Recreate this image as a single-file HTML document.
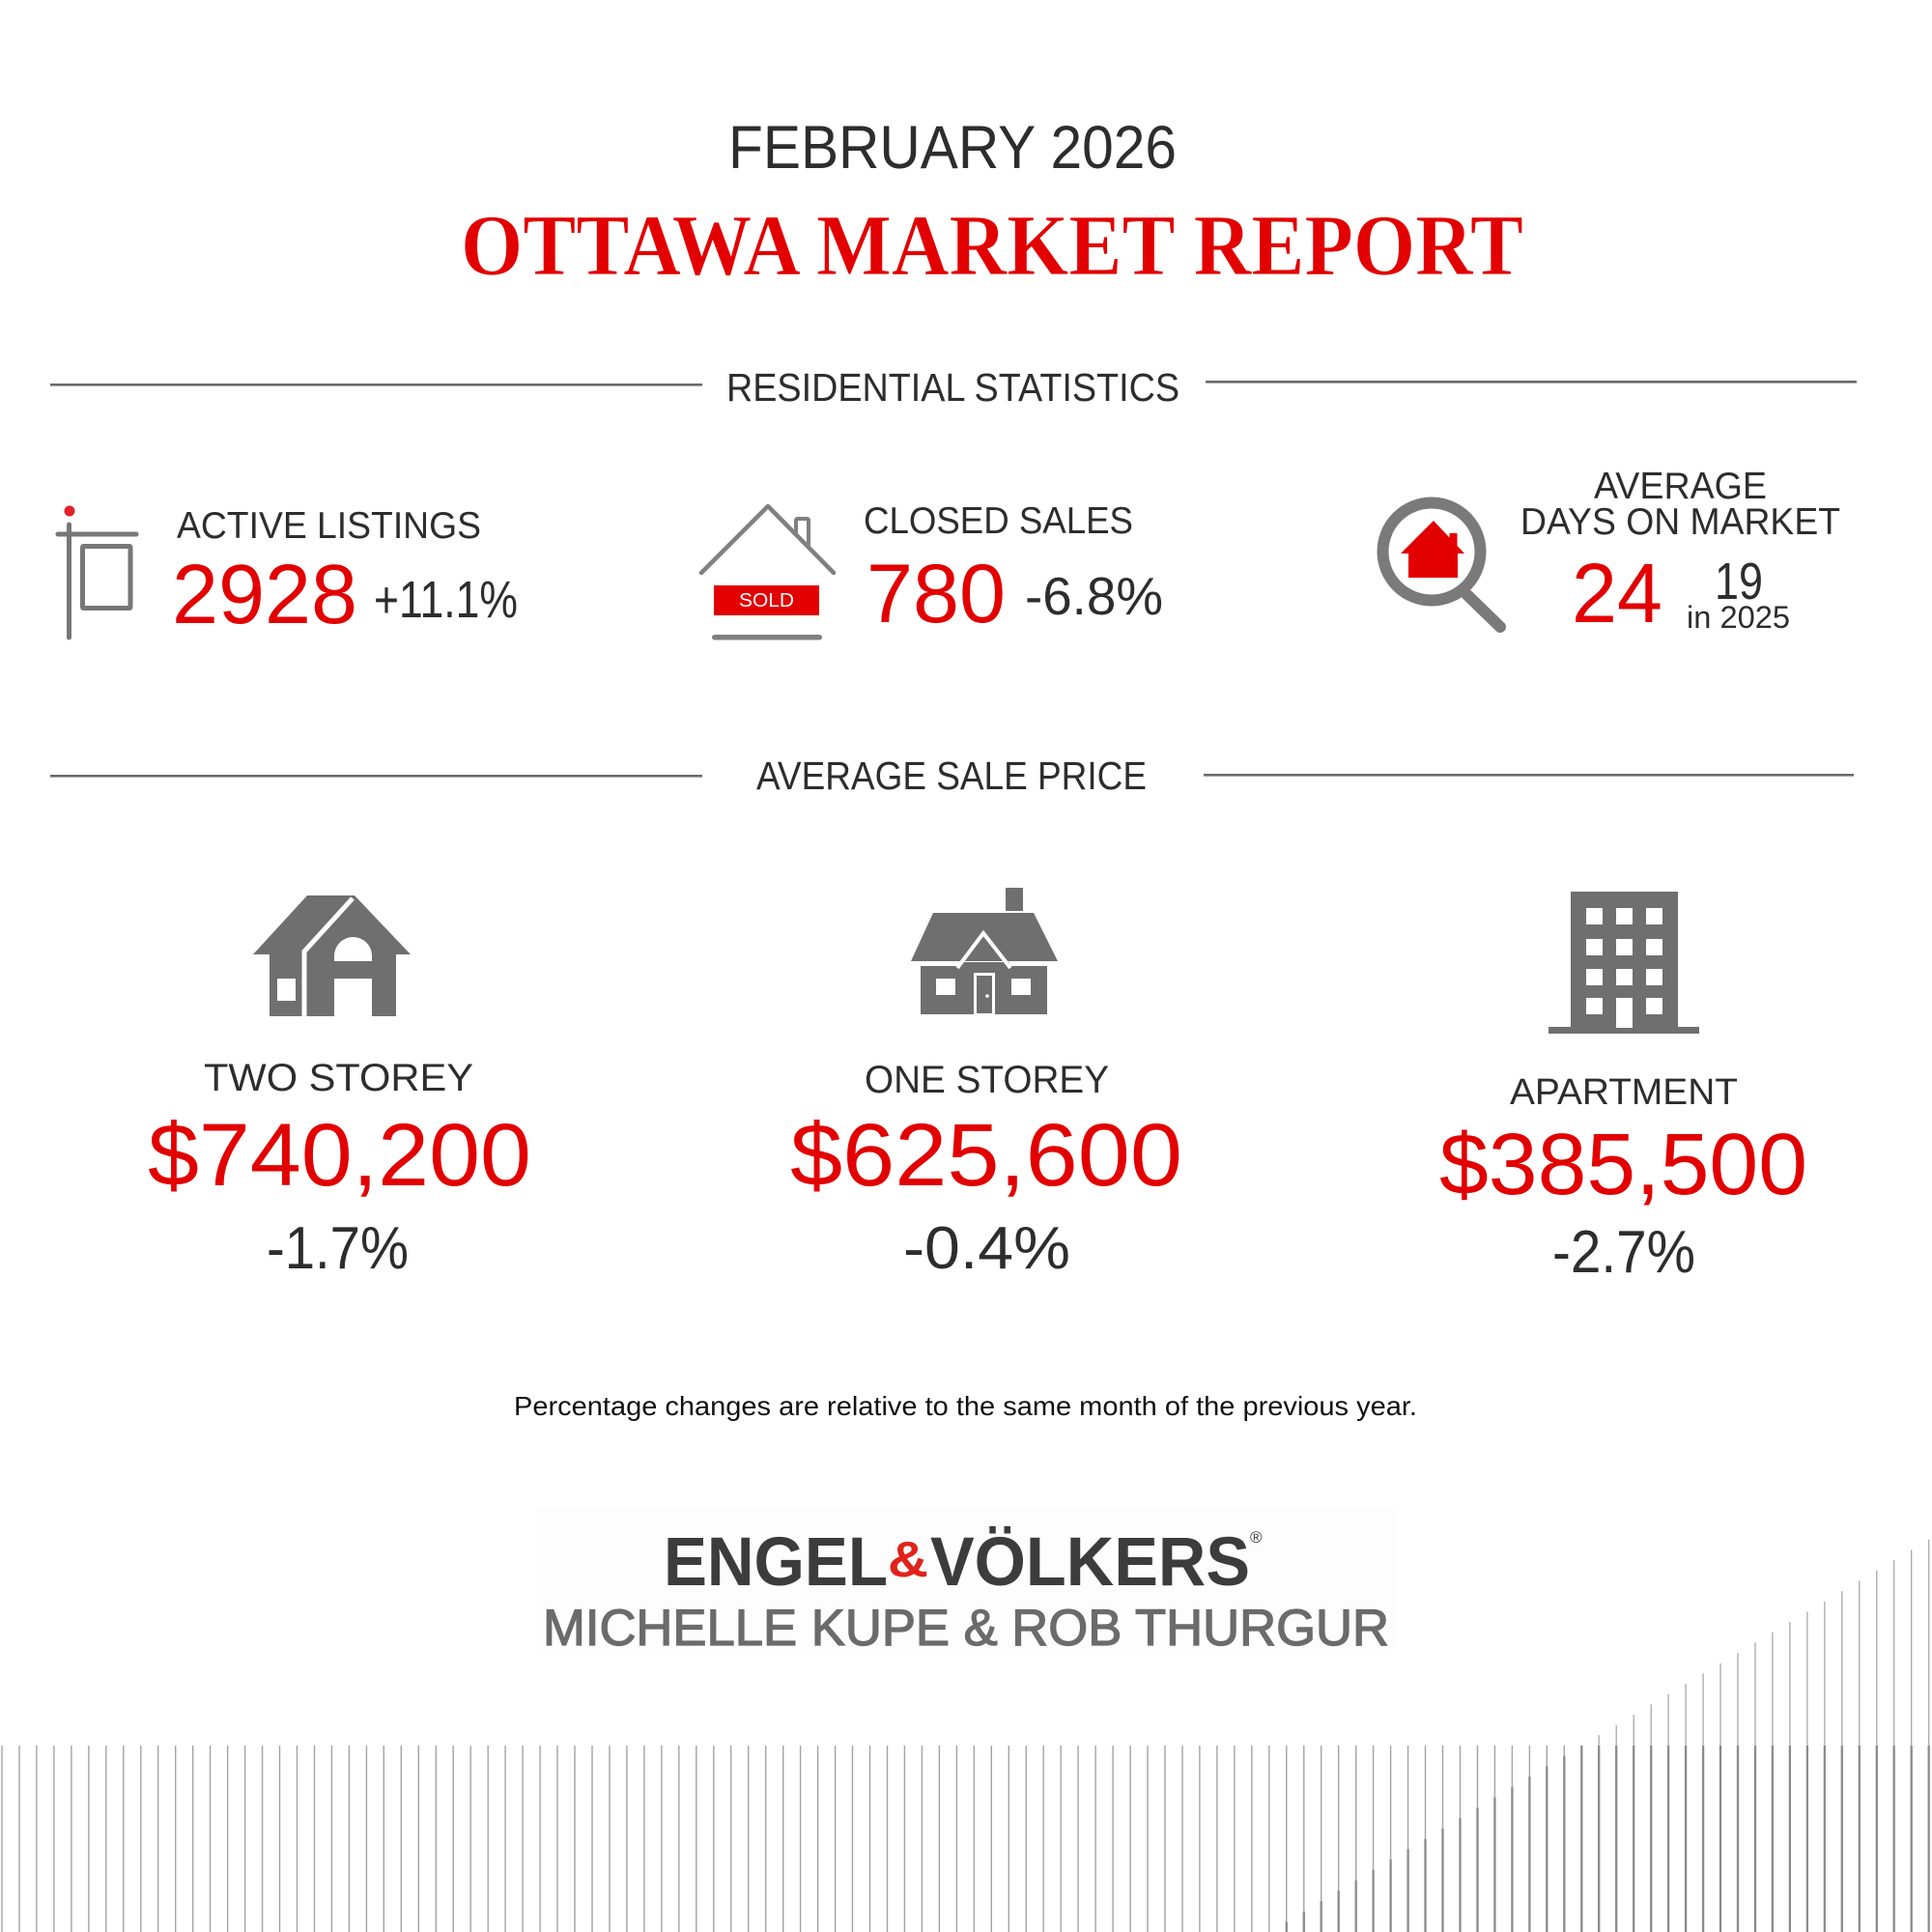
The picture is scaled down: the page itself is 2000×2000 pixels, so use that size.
<!DOCTYPE html>
<html>
<head>
<meta charset="utf-8">
<style>
html,body{margin:0;padding:0;background:#fff;}
svg{display:block;}
text{font-family:"Liberation Sans",Arial,sans-serif;}
</style>
</head>
<body>
<svg width="2000" height="2000" viewBox="0 0 2000 2000" xmlns="http://www.w3.org/2000/svg">
<rect x="0" y="0" width="2000" height="2000" fill="#ffffff"/>

<!-- Header -->
<text x="754" y="174" font-size="63" fill="#2d2d2d" textLength="464" lengthAdjust="spacingAndGlyphs">FEBRUARY 2026</text>
<text x="477" y="284" font-size="90" font-weight="bold" fill="#e20000" stroke="#ffffff" stroke-width="0.8" textLength="1100" lengthAdjust="spacingAndGlyphs" style="font-family:'Liberation Serif',serif">OTTAWA MARKET REPORT</text>

<!-- Section 1 -->
<rect x="52" y="397" width="675" height="2.6" fill="#6a6a6a"/>
<rect x="1248" y="394" width="674" height="2.6" fill="#6a6a6a"/>
<text x="752" y="415" font-size="41" fill="#2d2d2d" textLength="469" lengthAdjust="spacingAndGlyphs">RESIDENTIAL STATISTICS</text>

<!-- Active listings icon -->
<circle cx="72" cy="529" r="5.5" fill="#e5202a"/>
<line x1="71.5" y1="543" x2="71.5" y2="660" stroke="#777" stroke-width="5" stroke-linecap="round"/>
<line x1="60" y1="553" x2="141" y2="553" stroke="#777" stroke-width="5" stroke-linecap="round"/>
<rect x="85.5" y="565.5" width="49.5" height="64" fill="none" stroke="#777" stroke-width="5" rx="1"/>

<text x="183" y="557" font-size="39" fill="#2d2d2d" textLength="315" lengthAdjust="spacingAndGlyphs">ACTIVE LISTINGS</text>
<text x="178" y="645" font-size="87" fill="#e20000" textLength="192" lengthAdjust="spacingAndGlyphs">2928</text>
<text x="387" y="639" font-size="54" fill="#2d2d2d" textLength="149" lengthAdjust="spacingAndGlyphs">+11.1%</text>

<!-- Closed sales icon -->
<polyline points="726,593 795,524 863,593" fill="none" stroke="#808080" stroke-width="4.5" stroke-linecap="round" stroke-linejoin="round"/>
<path d="M824,553 V539 Q824,537 826,537 H835 Q837,537 837,539 V566" fill="none" stroke="#808080" stroke-width="4"/>
<rect x="739" y="606" width="109" height="31" fill="#e20000"/>
<text x="765" y="628" font-size="20.5" fill="#ffffff" textLength="57" lengthAdjust="spacingAndGlyphs">SOLD</text>
<rect x="737" y="657" width="114" height="5.5" rx="2.75" fill="#808080"/>

<text x="894" y="552" font-size="39" fill="#2d2d2d" textLength="279" lengthAdjust="spacingAndGlyphs">CLOSED SALES</text>
<text x="897" y="644" font-size="86" fill="#e20000" textLength="144" lengthAdjust="spacingAndGlyphs">780</text>
<text x="1061" y="636" font-size="55" fill="#2d2d2d" textLength="143" lengthAdjust="spacingAndGlyphs">-6.8%</text>

<!-- Days on market icon -->
<circle cx="1482" cy="571" r="50.5" fill="none" stroke="#7a7a7a" stroke-width="12"/>
<line x1="1519" y1="616" x2="1553" y2="649" stroke="#7a7a7a" stroke-width="12" stroke-linecap="round"/>
<polygon points="1484,539 1516,573 1509,573 1509,598 1458,598 1458,573 1450,573" fill="#e20000"/>
<rect x="1500.5" y="552" width="8" height="16" fill="#e20000"/>

<text x="1650" y="516" font-size="39" fill="#2d2d2d" textLength="179" lengthAdjust="spacingAndGlyphs">AVERAGE</text>
<text x="1574" y="553" font-size="39" fill="#2d2d2d" textLength="331" lengthAdjust="spacingAndGlyphs">DAYS ON MARKET</text>
<text x="1627" y="644" font-size="87" fill="#e20000" textLength="94" lengthAdjust="spacingAndGlyphs">24</text>
<text x="1775" y="620" font-size="54" fill="#2d2d2d" textLength="50" lengthAdjust="spacingAndGlyphs">19</text>
<text x="1746" y="650" font-size="32" fill="#2d2d2d" textLength="107" lengthAdjust="spacingAndGlyphs">in 2025</text>

<!-- Section 2 -->
<rect x="52" y="802" width="675" height="2.6" fill="#6a6a6a"/>
<rect x="1246" y="801" width="673" height="2.6" fill="#6a6a6a"/>
<text x="783" y="817" font-size="41" fill="#2d2d2d" textLength="404" lengthAdjust="spacingAndGlyphs">AVERAGE SALE PRICE</text>

<!-- Two storey icon -->
<g fill="#6f6f6f">
<polygon points="262,988 318,927 367,927 425,988 410,988 410,1052 279,1052 279,988"/>
</g>
<path d="M365,930 L315,985 L315,1052" fill="none" stroke="#fff" stroke-width="5"/>
<rect x="287" y="1013" width="19" height="23" fill="#fff"/>
<path d="M346,995 V989.5 A19.5,19.5 0 0 1 385,989.5 V995 Z" fill="#fff"/>
<rect x="346" y="1013" width="39" height="40" fill="#fff"/>

<!-- One storey icon -->
<g fill="#6f6f6f">
<rect x="1041" y="919" width="18" height="24"/>
<polygon points="966,945 1070,945 1095,995 943,995"/>
<rect x="953" y="996" width="131" height="54"/>
</g>
<line x1="943" y1="998" x2="993" y2="998" stroke="#fff" stroke-width="4"/>
<line x1="1045" y1="998" x2="1095" y2="998" stroke="#fff" stroke-width="4"/>
<path d="M991,1002 L1018,966 L1046,1002" fill="none" stroke="#fff" stroke-width="4"/>
<rect x="969" y="1013" width="20" height="17" fill="#fff"/>
<rect x="1047" y="1013" width="20" height="17" fill="#fff"/>
<rect x="1009.5" y="1008.5" width="19" height="42" fill="#6f6f6f" stroke="#fff" stroke-width="3"/>
<circle cx="1022" cy="1031" r="1.8" fill="#fff"/>

<!-- Apartment icon -->
<g fill="#6f6f6f">
<rect x="1626" y="923" width="111" height="142"/>
<rect x="1603" y="1063" width="156" height="7"/>
</g>
<g fill="#fff">
<rect x="1642" y="940" width="17" height="17"/><rect x="1673" y="940" width="17" height="17"/><rect x="1704" y="940" width="17" height="17"/>
<rect x="1642" y="972" width="17" height="17"/><rect x="1673" y="972" width="17" height="17"/><rect x="1704" y="972" width="17" height="17"/>
<rect x="1642" y="1003" width="17" height="17"/><rect x="1673" y="1003" width="17" height="17"/><rect x="1704" y="1003" width="17" height="17"/>
<rect x="1642" y="1033" width="17" height="17"/><rect x="1673" y="1033" width="17" height="31"/><rect x="1704" y="1033" width="17" height="17"/>
</g>

<!-- Prices -->
<text x="211" y="1129" font-size="40" fill="#2d2d2d" textLength="279" lengthAdjust="spacingAndGlyphs">TWO STOREY</text>
<text x="153" y="1227" font-size="92" fill="#e20000" textLength="397" lengthAdjust="spacingAndGlyphs">$740,200</text>
<text x="276" y="1313" font-size="62" fill="#2d2d2d" textLength="147" lengthAdjust="spacingAndGlyphs">-1.7%</text>

<text x="895" y="1131" font-size="40" fill="#2d2d2d" textLength="253" lengthAdjust="spacingAndGlyphs">ONE STOREY</text>
<text x="818" y="1227" font-size="92" fill="#e20000" textLength="406" lengthAdjust="spacingAndGlyphs">$625,600</text>
<text x="935" y="1313" font-size="62" fill="#2d2d2d" textLength="173" lengthAdjust="spacingAndGlyphs">-0.4%</text>

<text x="1563" y="1143" font-size="38" fill="#2d2d2d" textLength="236" lengthAdjust="spacingAndGlyphs">APARTMENT</text>
<text x="1490" y="1236" font-size="90" fill="#e20000" textLength="381" lengthAdjust="spacingAndGlyphs">$385,500</text>
<text x="1607" y="1317" font-size="62" fill="#2d2d2d" textLength="148" lengthAdjust="spacingAndGlyphs">-2.7%</text>

<!-- Footnote -->
<text x="532" y="1465" font-size="28" fill="#111" textLength="935" lengthAdjust="spacingAndGlyphs">Percentage changes are relative to the same month of the previous year.</text>

<!-- Logo -->
<rect x="554" y="1562" width="890" height="151" fill="#fdfdfd"/>
<text x="687" y="1641" font-size="71" font-weight="bold" fill="#3c3c3c" textLength="232" lengthAdjust="spacingAndGlyphs">ENGEL</text>
<text x="919" y="1632" font-size="52" font-weight="bold" fill="#e2231a" textLength="42" lengthAdjust="spacingAndGlyphs">&amp;</text>
<text x="963" y="1641" font-size="71" font-weight="bold" fill="#3c3c3c" textLength="331" lengthAdjust="spacingAndGlyphs">VÖLKERS</text>
<text x="1294" y="1597" font-size="17" fill="#3c3c3c">®</text>
<text x="562" y="1703" font-size="53" fill="#6b6b6b" stroke="#6b6b6b" stroke-width="1.3" textLength="876" lengthAdjust="spacingAndGlyphs">MICHELLE KUPE &amp; ROB THURGUR</text>

<!-- Bottom vertical lines (thin, flat) -->
<path fill="none" stroke="#a3a3a3" stroke-width="1.4" d="M2.0 1807V2000M20.0 1807V2000M37.9 1807V2000M55.9 1807V2000M73.9 1807V2000M91.9 1807V2000M109.8 1807V2000M127.8 1807V2000M145.8 1807V2000M163.7 1807V2000M181.7 1807V2000M199.7 1807V2000M217.6 1807V2000M235.6 1807V2000M253.6 1807V2000M271.6 1807V2000M289.5 1807V2000M307.5 1807V2000M325.5 1807V2000M343.4 1807V2000M361.4 1807V2000M379.4 1807V2000M397.3 1807V2000M415.3 1807V2000M433.3 1807V2000M451.3 1807V2000M469.2 1807V2000M487.2 1807V2000M505.2 1807V2000M523.1 1807V2000M541.1 1807V2000M559.1 1807V2000M577.0 1807V2000M595.0 1807V2000M613.0 1807V2000M631.0 1807V2000M648.9 1807V2000M666.9 1807V2000M684.9 1807V2000M702.8 1807V2000M720.8 1807V2000M738.8 1807V2000M756.7 1807V2000M774.7 1807V2000M792.7 1807V2000M810.7 1807V2000M828.6 1807V2000M846.6 1807V2000M864.6 1807V2000M882.5 1807V2000M900.5 1807V2000M918.5 1807V2000M936.4 1807V2000M954.4 1807V2000M972.4 1807V2000M990.4 1807V2000M1008.3 1807V2000M1026.3 1807V2000M1044.3 1807V2000M1062.2 1807V2000M1080.2 1807V2000M1098.2 1807V2000M1116.1 1807V2000M1134.1 1807V2000M1152.1 1807V2000M1170.1 1807V2000M1188.0 1807V2000M1206.0 1807V2000M1224.0 1807V2000M1241.9 1807V2000M1259.9 1807V2000M1277.9 1807V2000M1295.8 1807V2000M1313.8 1807V2000M1331.8 1807V2000M1349.8 1807V2000M1367.7 1807V2000M1385.7 1807V2000M1403.7 1807V2000M1421.6 1807V2000M1439.6 1807V2000M1457.6 1807V2000M1475.5 1807V2000M1493.5 1807V2000M1511.5 1807V2000M1529.5 1807V2000M1547.4 1807V2000M1565.4 1807V2000M1583.4 1807V2000M1601.3 1807V2000M1619.3 1807V2000M1637.3 1807V2000"/>
<!-- Rising thin tops -->
<path fill="none" stroke="#a8a8a8" stroke-width="1.3" d="M1655.2 1796.3V1808M1673.2 1785.7V1808M1691.2 1775.0V1808M1709.2 1764.4V1808M1727.1 1753.7V1808M1745.1 1743.0V1808M1763.1 1732.4V1808M1781.0 1721.7V1808M1799.0 1711.1V1808M1817.0 1700.4V1808M1834.9 1689.7V1808M1852.9 1679.1V1808M1870.9 1668.4V1808M1888.9 1657.8V1808M1906.8 1647.1V1808M1924.8 1636.4V1808M1942.8 1625.8V1808M1960.7 1615.1V1808M1978.7 1604.5V1808M1996.7 1593.8V1808"/>
<!-- Thick darker lower segments -->
<path fill="none" stroke="#8b8b8f" stroke-width="2.3" d="M1331.8 1989.4V2000M1349.8 1978.7V2000M1367.7 1968.0V2000M1385.7 1957.2V2000M1403.7 1946.5V2000M1421.6 1935.8V2000M1439.6 1925.0V2000M1457.6 1914.3V2000M1475.5 1903.6V2000M1493.5 1892.9V2000M1511.5 1882.1V2000M1529.5 1871.4V2000M1547.4 1860.7V2000M1565.4 1850.0V2000M1583.4 1839.2V2000M1601.3 1828.5V2000M1619.3 1817.8V2000M1637.3 1807.0V2000M1655.2 1807V2000M1673.2 1807V2000M1691.2 1807V2000M1709.2 1807V2000M1727.1 1807V2000M1745.1 1807V2000M1763.1 1807V2000M1781.0 1807V2000M1799.0 1807V2000M1817.0 1807V2000M1834.9 1807V2000M1852.9 1807V2000M1870.9 1807V2000M1888.9 1807V2000M1906.8 1807V2000M1924.8 1807V2000M1942.8 1807V2000M1960.7 1807V2000M1978.7 1807V2000M1996.7 1807V2000"/>
</svg>
</body>
</html>
